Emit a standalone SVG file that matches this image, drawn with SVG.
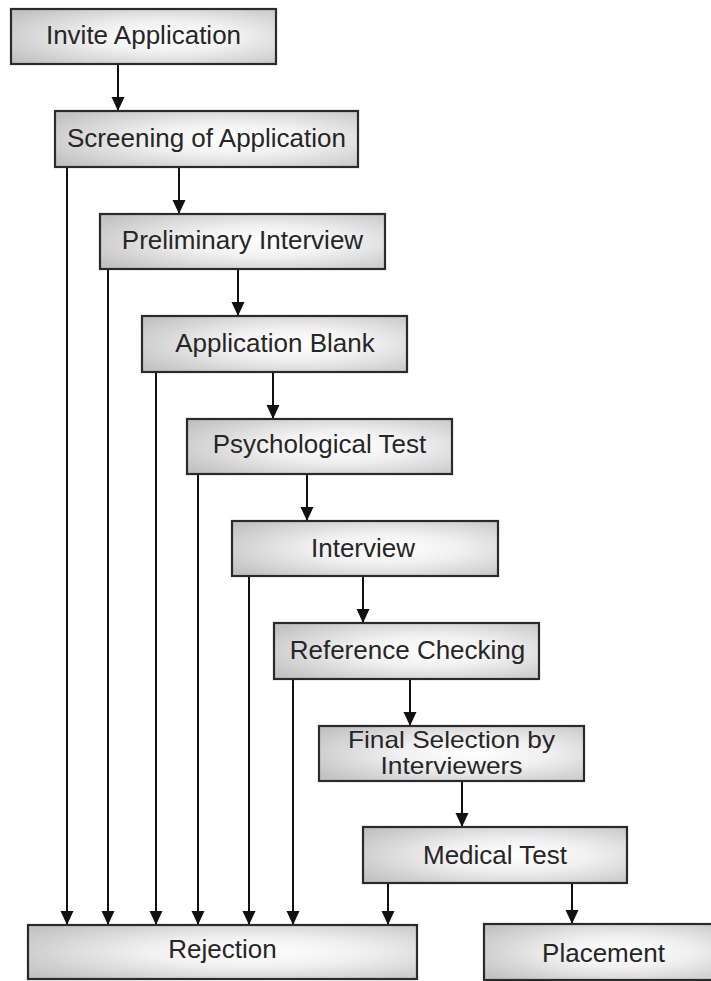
<svg xmlns="http://www.w3.org/2000/svg" width="711" height="981" viewBox="0 0 711 981">
<defs>
<radialGradient id="g" cx="0.58" cy="0.5" r="0.7" fx="0.58" fy="0.5">
<stop offset="0" stop-color="#ffffff"/>
<stop offset="0.4" stop-color="#f0f0f0"/>
<stop offset="1" stop-color="#c2c2c2"/>
</radialGradient>
<marker id="ah" markerUnits="userSpaceOnUse" markerWidth="14" markerHeight="14" viewBox="0 0 14 14" refX="14" refY="7" orient="auto">
<path d="M0,0.5 L14,7 L0,13.5 Z" fill="#111"/>
</marker>
<style>
.box{fill:url(#g);stroke:#2a2a2a;stroke-width:2.2}
.t{font-family:"Liberation Sans",Arial,Helvetica,sans-serif;font-size:26px;fill:#262626;text-anchor:middle}
.t2{font-size:24px}
.c{stroke:#111;stroke-width:2;fill:none;marker-end:url(#ah)}
</style>
</defs>
<rect width="711" height="981" fill="#ffffff"/>
<g id="connectors">
<line class="c" x1="118" y1="64" x2="118" y2="111"/>
<line class="c" x1="179" y1="167" x2="179" y2="214"/>
<line class="c" x1="238" y1="269" x2="238" y2="316"/>
<line class="c" x1="273" y1="372" x2="273" y2="419"/>
<line class="c" x1="307" y1="474" x2="307" y2="521"/>
<line class="c" x1="363" y1="576" x2="363" y2="623"/>
<line class="c" x1="410" y1="679" x2="410" y2="726"/>
<line class="c" x1="462" y1="781" x2="462" y2="827"/>
<line class="c" x1="572" y1="883" x2="572" y2="924"/>
<line class="c" x1="388" y1="883" x2="388" y2="925"/>
<line class="c" x1="67" y1="167" x2="67" y2="925"/>
<line class="c" x1="108" y1="269" x2="108" y2="925"/>
<line class="c" x1="156" y1="372" x2="156" y2="925"/>
<line class="c" x1="198" y1="474" x2="198" y2="925"/>
<line class="c" x1="249" y1="576" x2="249" y2="925"/>
<line class="c" x1="293" y1="679" x2="293" y2="925"/>
</g>
<g id="invite"><rect class="box" x="11" y="9" width="265" height="55"/><text class="t" x="143.5" y="44">Invite Application</text></g>
<g id="screening"><rect class="box" x="55" y="111" width="303" height="56"/><text class="t" x="206.5" y="147">Screening of Application</text></g>
<g id="preliminary"><rect class="box" x="100" y="214" width="285" height="55"/><text class="t" x="242.5" y="249">Preliminary Interview</text></g>
<g id="appblank"><rect class="box" x="142" y="316" width="265" height="56"/><text class="t" x="275" y="352">Application Blank</text></g>
<g id="psych"><rect class="box" x="187" y="419" width="265" height="55"/><text class="t" x="319.5" y="453">Psychological Test</text></g>
<g id="interview"><rect class="box" x="232" y="521" width="266" height="55"/><text class="t" x="363" y="557">Interview</text></g>
<g id="reference"><rect class="box" x="274" y="623" width="265" height="56"/><text class="t" x="407.5" y="659">Reference Checking</text></g>
<g id="final"><rect class="box" x="319" y="726" width="265" height="55"/><text class="t t2" x="451.5" y="748" textLength="207" lengthAdjust="spacingAndGlyphs">Final Selection by</text><text class="t t2" x="451.5" y="774" textLength="142" lengthAdjust="spacingAndGlyphs">Interviewers</text></g>
<g id="medical"><rect class="box" x="363" y="827" width="264" height="56"/><text class="t" x="495" y="864">Medical Test</text></g>
<g id="rejection"><rect class="box" x="28" y="925" width="389" height="54"/><text class="t" x="222.5" y="958">Rejection</text></g>
<g id="placement"><rect class="box" x="484" y="924" width="239" height="56"/><text class="t" x="603.5" y="962">Placement</text></g>
</svg>
